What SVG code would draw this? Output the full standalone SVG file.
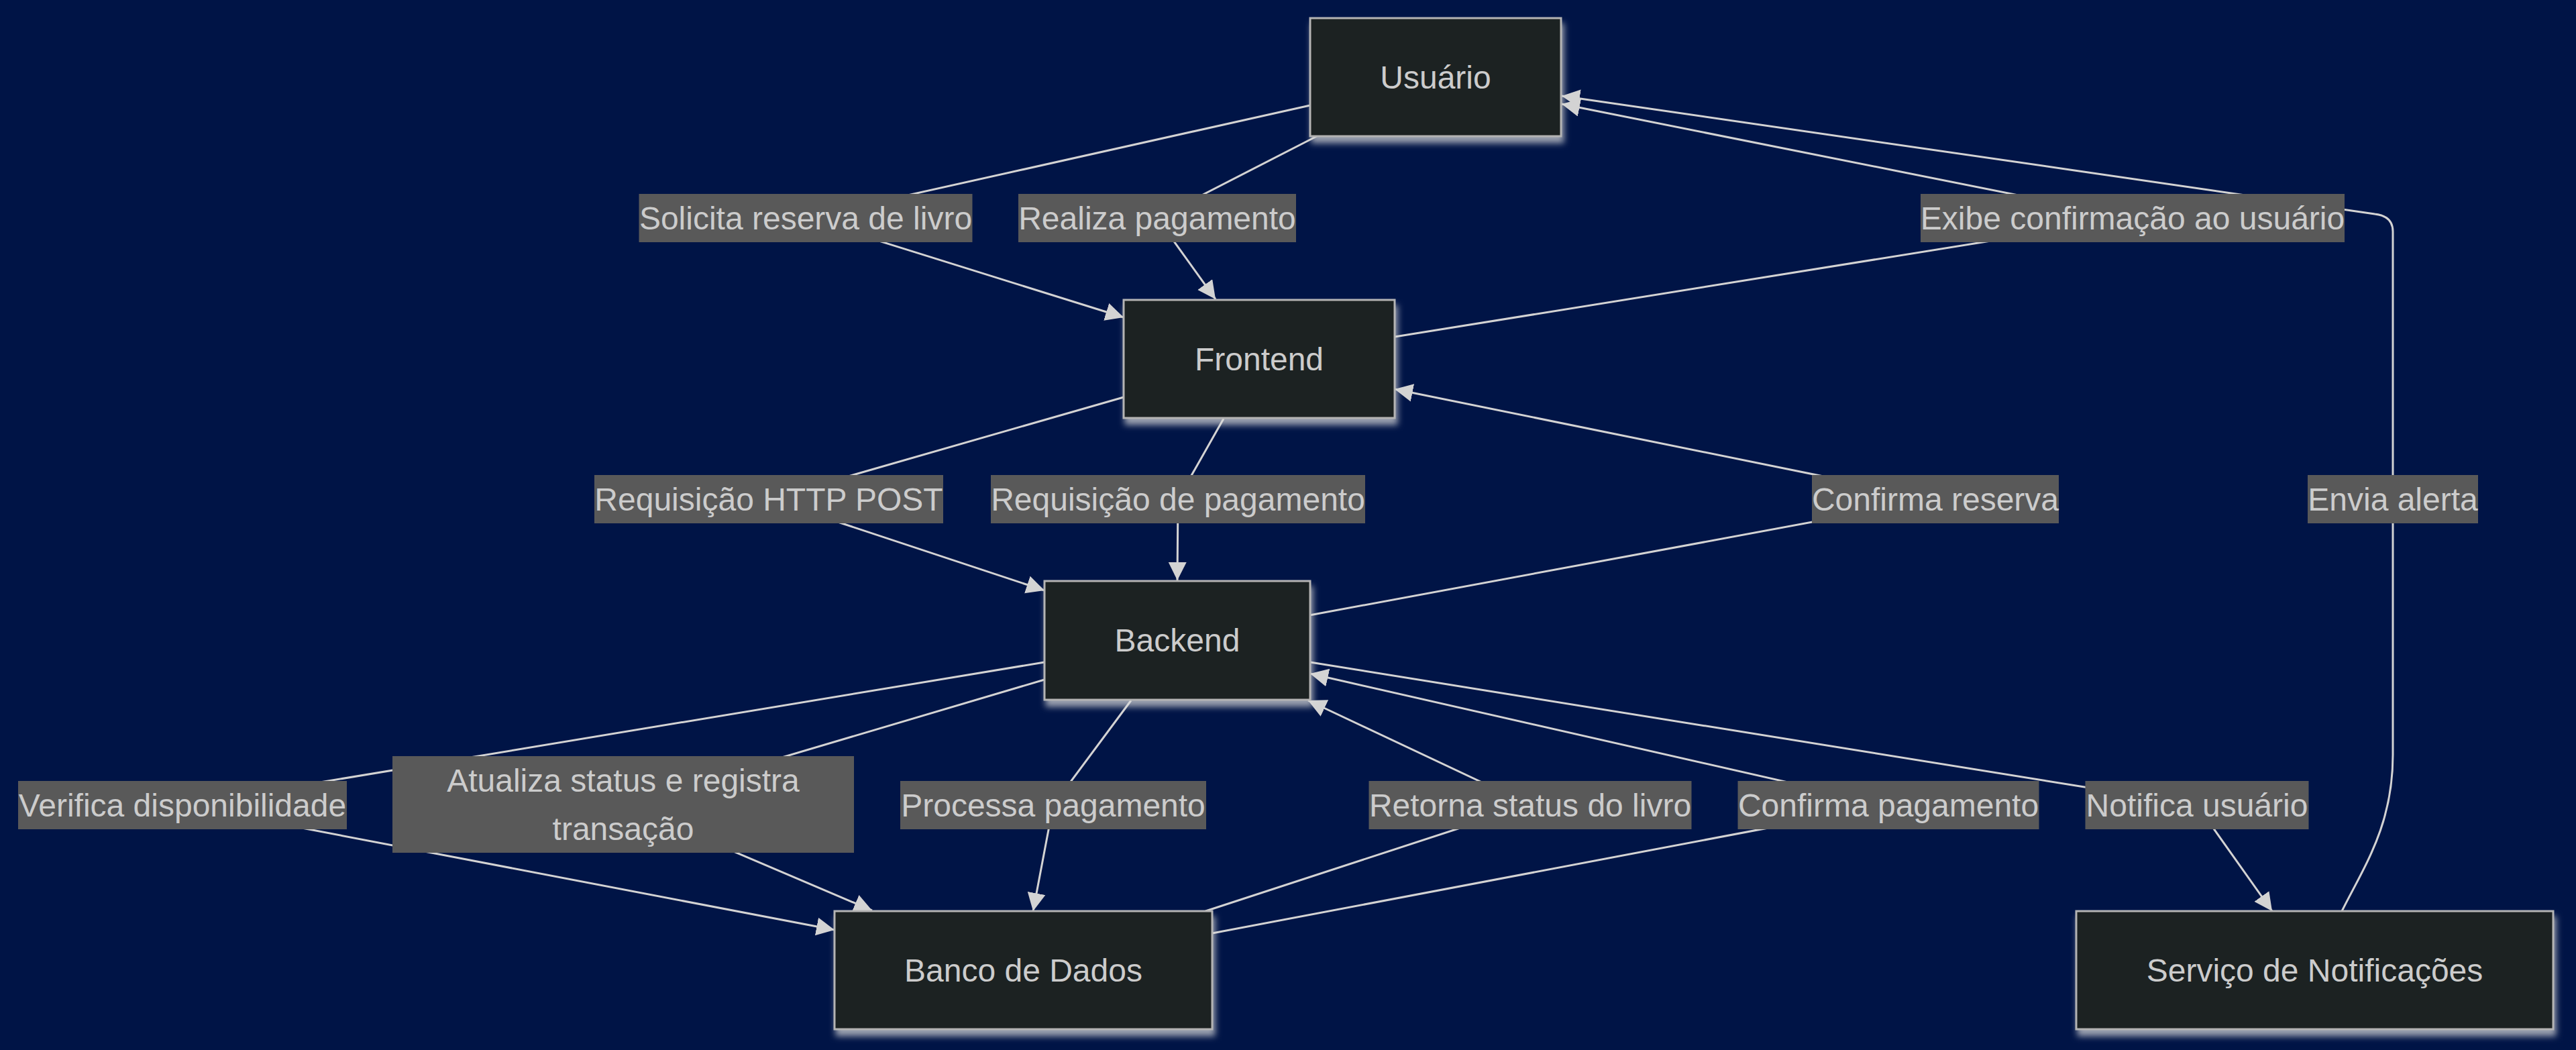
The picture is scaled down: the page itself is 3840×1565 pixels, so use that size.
<svg xmlns="http://www.w3.org/2000/svg" width="3840" height="1565" viewBox="0 0 3840 1565">
<style>
.bg{fill:#001446}
.node rect{fill:#1f2020;stroke:#b4b4b4;stroke-width:3}
.node text,.lbl text{font-family:"Liberation Sans",Arial,sans-serif;font-size:48px;fill:#cccccc;text-anchor:middle}
.edge{fill:none;stroke:#d3d3d3;stroke-width:3}
.lbl rect{fill:#595959}
</style>
<defs>
<marker id="arr" markerUnits="userSpaceOnUse" markerWidth="30" markerHeight="30" refX="27" refY="13.5" orient="auto">
<path d="M0,0 L27,13.5 L0,27 z" fill="#d3d3d3"/>
</marker>
<filter id="glow" x="-10%" y="-20%" width="125%" height="150%">
<feDropShadow dx="3" dy="9" stdDeviation="5" flood-color="#dcdcdc" flood-opacity="0.7"/>
</filter>
</defs>
<rect class="bg" x="0" y="0" width="3840" height="1565"/>
<g id="connectors">
<path id="e1" class="edge" d="M1953,157 L1201,325 L1675,473" marker-end="url(#arr)"/>
<path id="e2" class="edge" d="M1963,203 L1725,325 L1812,446" marker-end="url(#arr)"/>
<path id="e3" class="edge" d="M2079,502 L3179,325 L2328,155" marker-end="url(#arr)"/>
<path id="e4" class="edge" d="M1675,592 L1146,744 L1557,880" marker-end="url(#arr)"/>
<path id="e5" class="edge" d="M1824,624 L1756,744 L1755,865" marker-end="url(#arr)"/>
<path id="e6" class="edge" d="M1952,917 L2885,744 L2079,580" marker-end="url(#arr)"/>
<path id="e7" class="edge" d="M1557,987 L272,1200 L1244,1386" marker-end="url(#arr)"/>
<path id="e8" class="edge" d="M1557,1013 L929,1199 L1300,1357" marker-end="url(#arr)"/>
<path id="e9" class="edge" d="M1686,1044 L1570,1200 L1540,1358" marker-end="url(#arr)"/>
<path id="e10" class="edge" d="M1797,1358 L2281,1200 L1950,1044" marker-end="url(#arr)"/>
<path id="e11" class="edge" d="M1807,1391 L2815,1200 L1953,1004" marker-end="url(#arr)"/>
<path id="e12" class="edge" d="M1953,987 L3275,1200 L3387,1358" marker-end="url(#arr)"/>
<path id="e13" class="edge" d="M3491,1358 C3525,1290 3567,1230 3567,1125 L3567,345 Q3567,322 3540,319 L2328,143" marker-end="url(#arr)"/>
</g>
<g id="edge-labels">
<g class="lbl"><rect x="952.5" y="289" width="497" height="72"/><text x="1201" y="342">Solicita reserva de livro</text></g>
<g class="lbl"><rect x="1518" y="289" width="414" height="72"/><text x="1725" y="342">Realiza pagamento</text></g>
<g class="lbl"><rect x="2863" y="289" width="632" height="72"/><text x="3179" y="342">Exibe confirmação ao usuário</text></g>
<g class="lbl"><rect x="886" y="708" width="520" height="72"/><text x="1146" y="761">Requisição HTTP POST</text></g>
<g class="lbl"><rect x="1477" y="708" width="558" height="72"/><text x="1756" y="761">Requisição de pagamento</text></g>
<g class="lbl"><rect x="2701" y="708" width="368" height="72"/><text x="2885" y="761">Confirma reserva</text></g>
<g class="lbl"><rect x="3440" y="708" width="254" height="72"/><text x="3567" y="761">Envia alerta</text></g>
<g class="lbl"><rect x="27" y="1164" width="490" height="72"/><text x="272" y="1217">Verifica disponibilidade</text></g>
<g class="lbl"><rect x="585" y="1127" width="688" height="144"/><text x="929" y="1180">Atualiza status e registra</text><text x="929" y="1252">transação</text></g>
<g class="lbl"><rect x="1342" y="1164" width="456" height="72"/><text x="1570" y="1217">Processa pagamento</text></g>
<g class="lbl"><rect x="2040.5" y="1164" width="481" height="72"/><text x="2281" y="1217">Retorna status do livro</text></g>
<g class="lbl"><rect x="2590.5" y="1164" width="449" height="72"/><text x="2815" y="1217">Confirma pagamento</text></g>
<g class="lbl"><rect x="3108.5" y="1164" width="333" height="72"/><text x="3275" y="1217">Notifica usuário</text></g>
</g>
<g id="node-usuario" class="node"><rect x="1953" y="27" width="374" height="176" filter="url(#glow)"/><text x="2140" y="132">Usuário</text></g>
<g id="node-frontend" class="node"><rect x="1675" y="447" width="404" height="176" filter="url(#glow)"/><text x="1877" y="552">Frontend</text></g>
<g id="node-backend" class="node"><rect x="1557" y="866" width="396" height="177" filter="url(#glow)"/><text x="1755" y="971">Backend</text></g>
<g id="node-banco" class="node"><rect x="1244" y="1358" width="563" height="176" filter="url(#glow)"/><text x="1525.5" y="1463">Banco de Dados</text></g>
<g id="node-notificacoes" class="node"><rect x="3095" y="1358" width="711" height="176" filter="url(#glow)"/><text x="3450.5" y="1463">Serviço de Notificações</text></g>
</svg>
